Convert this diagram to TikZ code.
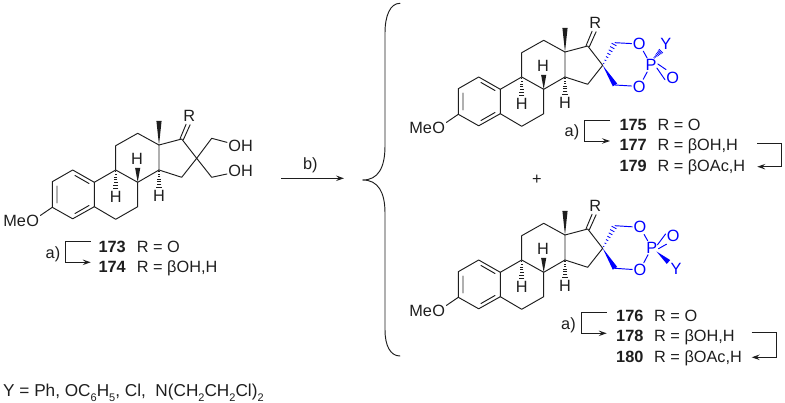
\documentclass[tikz,border=0pt]{standalone}
\usepackage{fontspec}
\setmainfont{Liberation Sans}
\usetikzlibrary{calc,arrows.meta}
\definecolor{chemblue}{RGB}{0,0,255}
\definecolor{ink}{RGB}{30,30,30}
\tikzset{
  bond/.style={draw=ink,line width=0.95pt,line cap=round,line join=round},
  bluebond/.style={draw=chemblue,line width=0.95pt,line cap=round,line join=round},
  atomlabel/.style={font=\fontsize{16.3}{17}\selectfont,inner sep=1.2pt,text=ink},
  blueatom/.style={atomlabel,text=chemblue},
  txt/.style={font=\fontsize{16.3}{17}\selectfont,inner sep=0pt,anchor=base west,text=ink},
  boldtxt/.style={txt,font=\fontsize{16.3}{17}\selectfont\bfseries},
  rxnarrow/.style={draw=ink,line width=0.95pt,-{Stealth[length=8pt,width=5.5pt,inset=3pt]}},
}
\newcommand{\sbs}[1]{\raisebox{-0.28em}{\fontsize{11}{11}\selectfont #1}}
\newcommand{\hashbond}[3]{%
  \foreach \t in {0.08,0.22,...,1.0} {
    \pgfmathsetmacro{\w}{0.4+\t*2.6}
    \draw[#3,line width=0.8pt,line cap=butt]
      ($(#1)!\t!(#2)!\w pt!90:(#2)$) -- ($(#1)!\t!(#2)!\w pt!-90:(#2)$);
  }}
\newcommand{\wedgebond}[3]{%
  \fill[#3] (#1) -- ($(#2)!2.6pt!90:(#1)$) -- ($(#2)!2.6pt!-90:(#1)$) -- cycle;}
% steroid skeleton, in reference pixels (left molecule's frame)
\newcommand{\steroid}{%
  \coordinate (c1) at (72.7,170);
  \coordinate (c2) at (52.3,181.7);
  \coordinate (c3) at (52.3,207.3);
  \coordinate (c4) at (72.7,218.8);
  \coordinate (c5) at (94.3,206.7);
  \coordinate (c10) at (94.3,182.3);
  \coordinate (c9) at (115.7,170);
  \coordinate (c11) at (115.7,145.7);
  \coordinate (c12) at (137.7,133.3);
  \coordinate (c13) at (159,145);
  \coordinate (c8) at (137.7,182.3);
  \coordinate (c14) at (159,170);
  \coordinate (c7) at (137.7,206.7);
  \coordinate (c6) at (115.7,219.3);
  \coordinate (c15) at (181.7,177.3);
  \coordinate (c16) at (196.7,158.3);
  \coordinate (c17) at (181.7,139);
  \coordinate (me) at (159,121);
  \coordinate (i1a) at (75,175.5);
  \coordinate (i1b) at (89,183.5);
  \coordinate (i2a) at (57,186);
  \coordinate (i2b) at (57,203);
  \coordinate (i3a) at (75,213.5);
  \coordinate (i3b) at (89,205.5);
  \coordinate (hb8) at (137.7,167.8);
  \coordinate (hb9) at (115.7,189.5);
  \coordinate (hb14) at (159,188.5);
  \node[atomlabel] (oxy) at (32.7,220.7) {O};
  \node[atomlabel,anchor=east,xshift=2.4pt] (mex) at (oxy.west) {Me};
  \node[atomlabel] (rlab) at (189.3,116) {R};
  \node[atomlabel] (h8) at (137,159) {H};
  \node[atomlabel] (h9) at (115.7,197) {H};
  \node[atomlabel] (h14) at (159,196) {H};
  \draw[bond] (c1)--(c2)--(c3)--(c4)--(c5)--(c10)--(c1);
  \draw[bond] (i1a)--(i1b) (i2a)--(i2b) (i3a)--(i3b);
  \draw[bond] (c3)--(oxy);
  \draw[bond] (c10)--(c9)--(c11)--(c12)--(c13)--(c14)--(c8)--(c9);
  \draw[bond] (c8)--(c7)--(c6)--(c5);
  \draw[bond] (c14)--(c15)--(c16)--(c17)--(c13);
  \draw[bond] ($(c17)+(-1.6,-0.4)$)--($(rlab.south)+(-3.2,1.2)$);
  \draw[bond] ($(c17)+(1.6,0.8)$)--($(rlab.south)+(0.8,1.8)$);
  \wedgebond{c13}{me}{ink}
  \wedgebond{c8}{hb8}{ink}
  \hashbond{c9}{hb9}{ink}
  \hashbond{c14}{hb14}{ink}
}
\begin{document}
\begin{tikzpicture}[x=1pt,y=-1pt]
\useasboundingbox (0,0) rectangle (785,403);
% left molecule
\begin{scope}[name prefix=l-]
  \steroid
  \coordinate (cha) at (211.7,138.3);
  \coordinate (chb) at (211.7,177.3);
  \node[atomlabel,anchor=west] (oh1) at (227,146) {OH};
  \node[atomlabel,anchor=west] (oh2) at (227,171) {OH};
  \draw[bond] (c16)--(cha)--(oh1);
  \draw[bond] (c16)--(chb)--(oh2);
\end{scope}
% top right molecule
\begin{scope}[shift={(406,-93)},name prefix=t-]
  \steroid
\end{scope}
\coordinate (t-cha) at (615,42.7);
\coordinate (t-chb) at (615,85);
\node[blueatom] (t-o1) at (639.3,44) {O};
\node[blueatom] (t-o2) at (639.3,86.5) {O};
\node[blueatom] (t-p) at (651,65) {P};
\node[blueatom] (t-oe) at (672.7,77.7) {O};
\node[blueatom] (t-y) at (665.7,44.3) {Y};
\coordinate (t-py) at (661.5,50.5);
\coordinate (t-ps) at (653.5,58.5);
\hashbond{t-c16}{t-cha}{chemblue}
\wedgebond{t-c16}{t-chb}{chemblue}
\draw[bluebond] (t-cha)--(t-o1) (t-o1)--(t-p) (t-p)--(t-o2) (t-o2)--(t-chb);
\draw[bluebond] ($(t-p.east)+(0,-1)$)--($(t-oe.north west)+(1,-1)$);
\draw[bluebond] ($(t-p.east)+(-1,3)$)--($(t-oe.west)+(0,2)$);
\hashbond{t-ps}{t-py}{chemblue}
% bottom right molecule
\begin{scope}[shift={(406,90)},name prefix=b-]
  \steroid
\end{scope}
\coordinate (b-cha) at (615,225.7);
\coordinate (b-chb) at (615,268.3);
\node[blueatom] (b-o1) at (640,227.3) {O};
\node[blueatom] (b-o2) at (640,270) {O};
\node[blueatom] (b-p) at (651.7,247.7) {P};
\node[blueatom] (b-oe) at (673.3,236) {O};
\node[blueatom] (b-y) at (676,269.3) {Y};
\coordinate (b-ps) at (656.5,251.5);
\coordinate (b-py) at (668.5,262);
\hashbond{b-c16}{b-cha}{chemblue}
\wedgebond{b-c16}{b-chb}{chemblue}
\draw[bluebond] (b-cha)--(b-o1) (b-o1)--(b-p) (b-p)--(b-o2) (b-o2)--(b-chb);
\draw[bluebond] ($(b-p.east)+(-1,-3)$)--($(b-oe.west)+(0,-2)$);
\draw[bluebond] ($(b-p.east)+(0,1)$)--($(b-oe.south west)+(1,1)$);
\wedgebond{b-ps}{b-py}{chemblue}
% left labels
\node[txt] (a1) at (45.5,259) {a)};
\node[boldtxt] (n173) at (98.3,252.5) {173};
\node[txt] (r173) at (136.7,252.5) {R = O};
\node[boldtxt] (n174) at (98.3,273) {174};
\node[txt] (r174) at (136.7,273) {R = βOH,H};
\coordinate (s1a) at (90.7,241.7);
\coordinate (s1b) at (65,241.7);
\coordinate (s1c) at (65,262.3);
\coordinate (s1d) at (90.7,262.3);
\draw[rxnarrow] (s1a)--(s1b)--(s1c)--(s1d);
% main arrow and brace
\coordinate (ma) at (281,178.3);
\coordinate (mb) at (344,178.3);
\draw[rxnarrow] (ma)--(mb);
\node[txt] (blab) at (302.8,169.5) {b)};
\coordinate (br1) at (400,3.3);
\coordinate (br2) at (385,33);
\coordinate (br3) at (385,146);
\coordinate (br4) at (362.7,180);
\coordinate (br5) at (385,213);
\coordinate (br6) at (385,330);
\coordinate (br7) at (400,356);
\draw[bond] (br1) .. controls (390,3.3) and (385,16) .. (br2) -- (br3)
  .. controls (385,168) and (378,180) .. (br4)
  .. controls (378,180) and (385,192) .. (br5) -- (br6)
  .. controls (385,345) and (390,356) .. (br7);
% top right labels
\node[txt] (a2) at (564.5,137) {a)};
\node[boldtxt] (n175) at (619.3,130.5) {175};
\node[txt] (r175) at (657.3,130.5) {R = O};
\node[boldtxt] (n177) at (619.3,151) {177};
\node[txt] (r177) at (657.3,151) {R = βOH,H};
\node[boldtxt] (n179) at (619.3,172) {179};
\node[txt] (r179) at (657.3,172) {R = βOAc,H};
\coordinate (s2a) at (610,120);
\coordinate (s2b) at (584.3,120);
\coordinate (s2c) at (584.3,141);
\coordinate (s2d) at (610,141);
\draw[rxnarrow] (s2a)--(s2b)--(s2c)--(s2d);
\coordinate (s3a) at (757.3,143.3);
\coordinate (s3b) at (781.7,143.3);
\coordinate (s3c) at (781.7,166.7);
\coordinate (s3d) at (757.3,166.7);
\draw[rxnarrow] (s3a)--(s3b)--(s3c)--(s3d);
\node[atomlabel] (plus) at (537,179.5) {+};
% bottom right labels
\node[txt] (a3) at (561,330) {a)};
\node[boldtxt] (n176) at (616,321.5) {176};
\node[txt] (r176) at (654,321.5) {R = O};
\node[boldtxt] (n178) at (616,342) {178};
\node[txt] (r178) at (654,342) {R = βOH,H};
\node[boldtxt] (n180) at (616,362.5) {180};
\node[txt] (r180) at (654,362.5) {R = βOAc,H};
\coordinate (s4a) at (606.7,312.7);
\coordinate (s4b) at (581.7,312.7);
\coordinate (s4c) at (581.7,333.3);
\coordinate (s4d) at (606.7,333.3);
\draw[rxnarrow] (s4a)--(s4b)--(s4c)--(s4d);
\coordinate (s5a) at (751.7,332.7);
\coordinate (s5b) at (776.7,332.7);
\coordinate (s5c) at (776.7,357.3);
\coordinate (s5d) at (751.7,357.3);
\draw[rxnarrow] (s5a)--(s5b)--(s5c)--(s5d);
% substituent line
\node[txt,font=\fontsize{17.2}{18}\selectfont] (ydef) at (3,396.8) {Y = Ph, OC\sbs{6}H\sbs{5}, Cl,\ \ N(CH\sbs{2}CH\sbs{2}Cl)\sbs{2}};
\end{tikzpicture}
\end{document}
